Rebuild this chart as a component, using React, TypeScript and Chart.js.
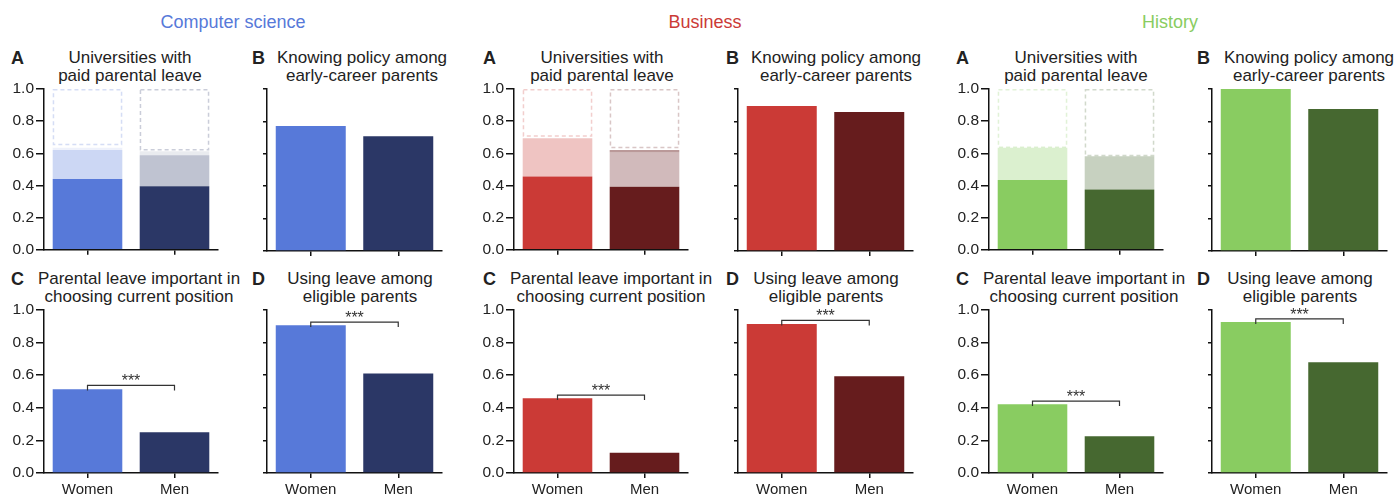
import React, { useEffect, useRef } from 'react';
import { Chart, registerables } from 'chart.js';

Chart.register(...registerables);

const FONT = '"Liberation Sans", Arial, Helvetica, sans-serif';

// ---------- data ----------
const fields = ['Computer science', 'Business', 'History'];
const categories = ['Women', 'Men'];
const yTickLabels = ['0.0', '0.2', '0.4', '0.6', '0.8', '1.0'];

const titleA = ['Universities with', 'paid parental leave'];
const titleB = ['Knowing policy among', 'early-career parents'];
const titleC = ['Parental leave important in', 'choosing current position'];
const titleD = ['Using leave among', 'eligible parents'];
const panelLetters = ['A', 'B', 'C', 'D'];
const starLabel = '***';

// A: universities with paid parental leave (solid / tinted / band / dashed bound, upper = 1)
const csPaidSolid = [0.44, 0.395];
const csPaidTint = [0.62, 0.588];
const csPaidBand = [0.635, 0.612];
const csPaidBound = [0.655, 0.622];
const busPaidSolid = [0.455, 0.391];
const busPaidTint = [0.693, 0.607];
const busPaidBand = [0.693, 0.62];
const busPaidBound = [0.708, 0.636];
const hisPaidSolid = [0.434, 0.375];
const hisPaidTint = [0.635, 0.582];
const hisPaidBand = [0.635, 0.582];
const hisPaidBound = [0.638, 0.586];
const paidUpper = [1.0, 1.0];

// B: knowing policy among early-career parents
const csKnow = [0.772, 0.708];
const busKnow = [0.895, 0.858];
const hisKnow = [1.0, 0.877];

// C: parental leave important in choosing current position
const csImportant = [0.514, 0.25];
const busImportant = [0.459, 0.125];
const hisImportant = [0.422, 0.226];
const importantBracket = [0.537, 0.478, 0.441];

// D: using leave among eligible parents
const csUsing = [0.906, 0.611];
const busUsing = [0.914, 0.594];
const hisUsing = [0.926, 0.68];
const usingBracket = [0.926, 0.936, 0.945];

// ---------- styles ----------
const headerColors = ['#5779D9', '#CB3A36', '#89CC61'];
const womenRGB = [[87, 121, 217], [203, 58, 54], [137, 204, 97]];
const menRGB = [[43, 55, 102], [102, 28, 29], [70, 104, 48]];
const bandAlpha = [[0.1, 0.1], [0.3, 0.45], [0.3, 0.3]];

const axisA = [44, 514, 989];
const axisB = [267, 738, 1212];
const letterLeftA = [11, 483, 956];
const letterLeftB = [252, 726, 1197];
const titleCenterA = [130, 602, 1076];
const titleCenterB = [362, 836, 1309];
const titleCenterC = [139, 611, 1084];
const titleCenterD = [360, 826, 1300];
const headerCenter = [233, 705, 1170];

const rgba = (c: number[], a: number) => `rgba(${c[0]},${c[1]},${c[2]},${a})`;

const dashedBoxPlugin = {
  id: 'dashedBox',
  afterDatasetsDraw(chart: any) {
    const ctx = chart.ctx;
    chart.data.datasets.forEach((ds: any, di: number) => {
      if (!ds.dashColors) return;
      const meta = chart.getDatasetMeta(di);
      meta.data.forEach((el: any, i: number) => {
        const p = el.getProps(['x', 'y', 'base', 'width'], true);
        ctx.save();
        ctx.strokeStyle = ds.dashColors[i];
        ctx.lineWidth = 1.5;
        ctx.setLineDash([4, 3]);
        const top = Math.min(p.y, p.base);
        ctx.strokeRect(p.x - p.width / 2 + 0.75, top + 0.75, p.width - 1.5, Math.abs(p.base - p.y) - 0.75);
        ctx.restore();
      });
    });
  },
};

const bracketPlugin = {
  id: 'bracket',
  afterDatasetsDraw(chart: any, _args: any, opts: any) {
    if (!opts || opts.value == null) return;
    const ctx = chart.ctx;
    const x0 = chart.scales.x.getPixelForValue(0);
    const x1 = chart.scales.x.getPixelForValue(1);
    const y = chart.scales.y.getPixelForValue(opts.value);
    ctx.save();
    ctx.strokeStyle = '#333';
    ctx.lineWidth = 1.2;
    ctx.beginPath();
    ctx.moveTo(x0, y + 5);
    ctx.lineTo(x0, y);
    ctx.lineTo(x1, y);
    ctx.lineTo(x1, y + 5);
    ctx.stroke();
    ctx.fillStyle = '#333';
    ctx.font = '16px ' + FONT;
    ctx.textAlign = 'center';
    ctx.textBaseline = 'alphabetic';
    ctx.fillText(opts.text, (x0 + x1) / 2, y + 1);
    ctx.restore();
  },
};

type PanelProps = {
  axisX: number;
  topY: number;
  plotW: number;
  plotH: number;
  xH: number;
  showY: boolean;
  showX: boolean;
  datasets: any[];
  bracket?: number;
};

function ChartPanel({ axisX, topY, plotW, plotH, xH, showY, showX, datasets, bracket }: PanelProps) {
  const ref = useRef<HTMLCanvasElement>(null);
  const YW = 40;
  const PT = 12;
  const PR = 4;
  const W = YW + plotW + PR;
  const H = PT + plotH + xH;
  useEffect(() => {
    if (!ref.current) return;
    const chart = new Chart(ref.current, {
      type: 'bar',
      data: { labels: categories, datasets },
      options: {
        animation: false,
        responsive: false,
        devicePixelRatio: 1,
        layout: { padding: { top: PT, right: PR, left: 0, bottom: 0 } },
        plugins: {
          legend: { display: false },
          tooltip: { enabled: false },
          title: { display: false },
          bracket: bracket != null ? { value: bracket, text: starLabel } : {},
        } as any,
        scales: {
          x: {
            type: 'category',
            offset: true,
            grid: {
              offset: false,
              drawOnChartArea: false,
              drawTicks: true,
              tickLength: 5,
              color: '#111',
              lineWidth: 1.5,
            },
            border: { display: true, color: '#111', width: 1.5 },
            ticks: {
              display: showX,
              color: '#222',
              padding: 3,
              font: { family: FONT, size: 15 },
              maxRotation: 0,
            },
            afterFit: (s: any) => {
              s.height = xH;
            },
          } as any,
          y: {
            min: 0,
            max: 1,
            grid: {
              drawOnChartArea: false,
              drawTicks: true,
              tickLength: showY ? 8 : 4,
              color: '#111',
              lineWidth: 1.5,
            },
            border: { display: true, color: '#111', width: 1.5 },
            ticks: {
              display: showY,
              stepSize: 0.2,
              color: '#222',
              padding: 2,
              font: { family: FONT, size: 15.5 },
              callback: (_v: any, i: number) => yTickLabels[i],
            },
            afterFit: (s: any) => {
              s.width = YW;
            },
          } as any,
        },
      },
      plugins: bracket != null ? [dashedBoxPlugin, bracketPlugin] : [dashedBoxPlugin],
    } as any);
    return () => chart.destroy();
  }, []);
  return (
    <canvas
      ref={ref}
      width={W}
      height={H}
      style={{ position: 'absolute', left: axisX - YW, top: topY - PT, width: W, height: H }}
    />
  );
}

const BAR = { barPercentage: 0.8, categoryPercentage: 1.0, borderWidth: 0, grouped: false };

function simpleBars(values: number[], g: number) {
  return [
    {
      ...BAR,
      data: values,
      backgroundColor: [rgba(womenRGB[g], 1), rgba(menRGB[g], 1)],
    },
  ];
}

function paidBars(solid: number[], tint: number[], band: number[], bound: number[], g: number) {
  const cols = [womenRGB[g], menRGB[g]];
  return [
    { ...BAR, data: solid.map((v) => [0, v]), backgroundColor: cols.map((c) => rgba(c, 1)) },
    { ...BAR, data: solid.map((v, i) => [v, tint[i]]), backgroundColor: cols.map((c) => rgba(c, 0.3)) },
    {
      ...BAR,
      data: tint.map((v, i) => [v, band[i]]),
      backgroundColor: cols.map((c, i) => rgba(c, bandAlpha[g][i])),
    },
    {
      ...BAR,
      data: bound.map((v, i) => [v, paidUpper[i]]),
      backgroundColor: 'rgba(0,0,0,0)',
      dashColors: cols.map((c) => rgba(c, 0.25)),
    },
  ];
}

const paidSets = [
  [csPaidSolid, csPaidTint, csPaidBand, csPaidBound],
  [busPaidSolid, busPaidTint, busPaidBand, busPaidBound],
  [hisPaidSolid, hisPaidTint, hisPaidBand, hisPaidBound],
];
const knowSets = [csKnow, busKnow, hisKnow];
const importantSets = [csImportant, busImportant, hisImportant];
const usingSets = [csUsing, busUsing, hisUsing];

const titleStyle = (cx: number, top: number): React.CSSProperties => ({
  position: 'absolute',
  left: cx - 140,
  width: 280,
  top,
  textAlign: 'center',
  fontFamily: FONT,
  fontSize: 17,
  lineHeight: '18px',
  color: '#222',
  whiteSpace: 'nowrap',
});

const letterStyle = (left: number, top: number): React.CSSProperties => ({
  position: 'absolute',
  left,
  top,
  fontFamily: FONT,
  fontSize: 18,
  fontWeight: 'bold',
  lineHeight: '18px',
  color: '#222',
});

export default function App() {
  const TOP1 = 89;
  const TOP2 = 310;
  return (
    <div
      style={{
        position: 'absolute',
        left: 0,
        top: 0,
        width: 1399,
        height: 498,
        background: '#fff',
        overflow: 'hidden',
      }}
    >
      {fields.map((f, g) => (
        <React.Fragment key={f}>
          <div
            style={{
              position: 'absolute',
              left: headerCenter[g] - 150,
              width: 300,
              top: 11,
              textAlign: 'center',
              fontFamily: FONT,
              fontSize: 18,
              lineHeight: '22px',
              color: headerColors[g],
            }}
          >
            {f}
          </div>

          <div style={letterStyle(letterLeftA[g], 49)}>{panelLetters[0]}</div>
          <div style={titleStyle(titleCenterA[g], 49)}>
            {titleA[0]}
            <br />
            {titleA[1]}
          </div>
          <div style={letterStyle(letterLeftB[g], 49)}>{panelLetters[1]}</div>
          <div style={titleStyle(titleCenterB[g], 49)}>
            {titleB[0]}
            <br />
            {titleB[1]}
          </div>
          <div style={letterStyle(letterLeftA[g], 270)}>{panelLetters[2]}</div>
          <div style={titleStyle(titleCenterC[g], 270)}>
            {titleC[0]}
            <br />
            {titleC[1]}
          </div>
          <div style={letterStyle(letterLeftB[g], 270)}>{panelLetters[3]}</div>
          <div style={titleStyle(titleCenterD[g], 270)}>
            {titleD[0]}
            <br />
            {titleD[1]}
          </div>

          <ChartPanel
            axisX={axisA[g]}
            topY={TOP1}
            plotW={174}
            plotH={162}
            xH={10}
            showY={true}
            showX={false}
            datasets={paidBars(paidSets[g][0], paidSets[g][1], paidSets[g][2], paidSets[g][3], g)}
          />
          <ChartPanel
            axisX={axisB[g]}
            topY={TOP1}
            plotW={175}
            plotH={162}
            xH={10}
            showY={false}
            showX={false}
            datasets={simpleBars(knowSets[g], g)}
          />
          <ChartPanel
            axisX={axisA[g]}
            topY={TOP2}
            plotW={174}
            plotH={163}
            xH={25}
            showY={true}
            showX={true}
            datasets={simpleBars(importantSets[g], g)}
            bracket={importantBracket[g]}
          />
          <ChartPanel
            axisX={axisB[g]}
            topY={TOP2}
            plotW={175}
            plotH={163}
            xH={25}
            showY={false}
            showX={true}
            datasets={simpleBars(usingSets[g], g)}
            bracket={usingBracket[g]}
          />
        </React.Fragment>
      ))}
    </div>
  );
}
